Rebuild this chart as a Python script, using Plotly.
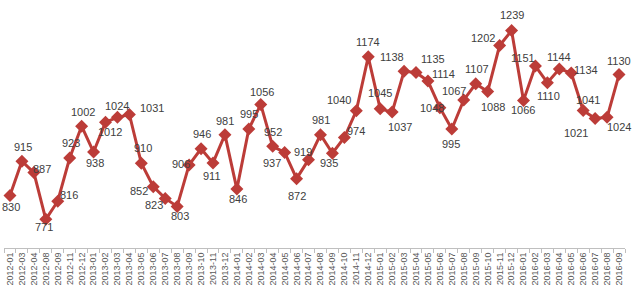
import plotly.graph_objects as go

months = ["2012-01", "2012-03", "2012-04", "2012-08", "2012-09", "2012-11", "2012-12",
          "2013-01", "2013-02", "2013-03", "2013-04", "2013-05", "2013-06", "2013-07",
          "2013-08", "2013-09", "2013-10", "2013-11", "2013-12",
          "2014-01", "2014-02", "2014-03", "2014-04", "2014-05", "2014-06", "2014-07",
          "2014-08", "2014-09", "2014-10", "2014-11", "2014-12",
          "2015-01", "2015-02", "2015-03", "2015-04", "2015-05", "2015-06", "2015-07",
          "2015-08", "2015-09", "2015-10", "2015-11", "2015-12",
          "2016-01", "2016-02", "2016-03", "2016-04", "2016-05", "2016-06", "2016-07",
          "2016-08", "2016-09"]

values = [830, 915, 887, 771, 816, 923, 1002,
          938, 1012, 1024, 1031, 910, 852, 823,
          803, 906, 946, 911, 981,
          846, 995, 1056, 952, 937, 872, 919,
          981, 935, 974, 1040, 1174,
          1045, 1037, 1138, 1135, 1114, 1048, 995,
          1067, 1107, 1088, 1202, 1239,
          1066, 1151, 1110, 1144, 1134, 1041, 1021,
          1024, 1130]

# label offsets in pixels (style only): (dx, dy) from the marker
label_dx = [1, 1, 8, -2, 11, 1, 1,
            1, 4, 0, 23, 2, -14, -11,
            3, -8, 1, -1, 0,
            1, 0, 1, 0, -13, 0, -6,
            1, -3, 12, -17, 0,
            0, 8, -12, 17, 16, -8, -1,
            -10, 1, 5, -17, 0,
            0, -12, 1, 0, 15, 5, -19,
            12, 0]
label_dy = [-11, 14, 4, -8, 6, 15, 14,
            -11, -10, 11, 7, 15, -4, -7,
            -10, 1, 15, -13, 14,
            -10, 15, 12, 14, -11, -17, 8,
            15, -10, 6, 11, 15,
            16, -15, 14, 14, 7, 0, -15,
            9, 15, -15, 8, 16,
            -10, 8, -13, 12, 3, 10, -14,
            -10, 14]

red = "#BC3C38"
font_family = "Liberation Sans, Arial, sans-serif"

fig = go.Figure(go.Scatter(
    x=months, y=values,
    mode="lines+markers",
    line=dict(color=red, width=3),
    marker=dict(symbol="diamond", size=10, color=red),
    cliponaxis=False,
    hoverinfo="x+y",
))

for m, v, dx, dy in zip(months, values, label_dx, label_dy):
    fig.add_annotation(
        x=m, y=v, text=str(v), showarrow=False,
        xshift=dx, yshift=dy, xanchor="center", yanchor="middle",
        font=dict(family=font_family, size=11, color="#404040"),
    )

fig.update_layout(
    width=639, height=295,
    margin=dict(l=4, r=14, t=6, b=47, autoexpand=False),
    paper_bgcolor="white", plot_bgcolor="white",
    showlegend=False,
    font=dict(family=font_family),
)
fig.update_xaxes(
    type="category",
    range=[-0.5, len(months) - 0.5],
    tickmode="array", tickvals=months, ticktext=months,
    tickangle=-90,
    tickfont=dict(size=9, color="#595959"),
    showline=True, linecolor="#BFBFBF", linewidth=1,
    ticks="outside", ticklen=4, tickcolor="#BFBFBF",
    tickson="boundaries",
    showgrid=False, zeroline=False,
    automargin=False,
)
fig.update_yaxes(
    range=[700, 1300],
    visible=False,
    showgrid=False, zeroline=False,
    automargin=False,
)

fig.write_html("out.html")
